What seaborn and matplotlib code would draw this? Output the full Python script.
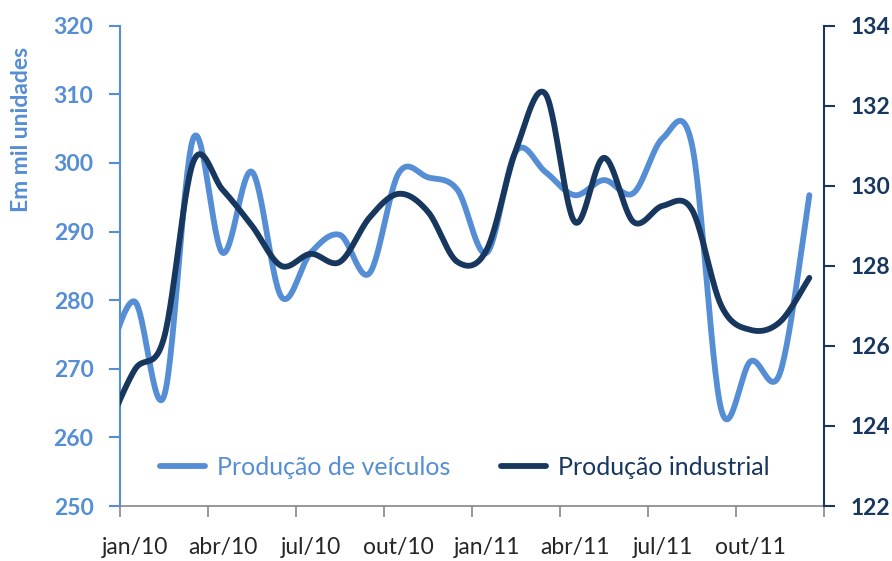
import numpy as np
import matplotlib
matplotlib.use("Agg")
import matplotlib.pyplot as plt
import seaborn as sns

# Monthly data (first value is dez/09, clipped by the axis like in the source chart)
months = ["dez/09",
          "jan/10", "fev/10", "mar/10", "abr/10", "mai/10", "jun/10",
          "jul/10", "ago/10", "set/10", "out/10", "nov/10", "dez/10",
          "jan/11", "fev/11", "mar/11", "abr/11", "mai/11", "jun/11",
          "jul/11", "ago/11", "set/11", "out/11", "nov/11", "dez/11"]
veiculos = [270.0,
            279.8, 266.0, 303.6, 286.9, 298.7, 280.5,
            286.9, 289.5, 283.9, 298.5, 297.9, 296.1,
            286.9, 301.7, 298.7, 295.3, 297.5, 295.6,
            303.6, 302.6, 264.0, 271.1, 269.4, 295.3]
industrial = [123.8,
              125.4, 126.2, 130.6, 129.9, 129.0, 128.0,
              128.3, 128.1, 129.2, 129.8, 129.35, 128.1,
              128.4, 130.9, 132.3, 129.1, 130.7, 129.1,
              129.5, 129.4, 127.0, 126.4, 126.6, 127.7]
tick_labels = ["jan/10", "abr/10", "jul/10", "out/10",
               "jan/11", "abr/11", "jul/11", "out/11"]

light = "#558ED5"
dark = "#17375E"


def smooth(xs, ys, n=30):
    # Excel-style smoothed line (Catmull-Rom Bezier through the points)
    P = np.column_stack([np.asarray(xs, float), np.asarray(ys, float)])
    out = []
    for i in range(len(P) - 1):
        p0 = P[i - 1] if i > 0 else P[i]
        p1 = P[i]
        p2 = P[i + 1]
        p3 = P[i + 2] if i + 2 < len(P) else P[i + 1]
        b1 = p1 + (p2 - p0) / 6
        b2 = p2 - (p3 - p1) / 6
        t = np.linspace(0, 1, n)[:, None]
        seg = ((1 - t) ** 3) * p1 + 3 * ((1 - t) ** 2) * t * b1 + 3 * (1 - t) * t ** 2 * b2 + t ** 3 * p2
        out.append(seg if i == 0 else seg[1:])
    out = np.vstack(out)
    return out[:, 0], out[:, 1]


sns.set_style("white")
plt.rcParams['font.family'] = ['Lato', 'DejaVu Sans']

fig = plt.figure(figsize=(8.92, 5.61), dpi=100)
ax = fig.add_axes([0.1345, 0.098, 0.7893, 0.8562])
ax2 = ax.twinx()

xpos = np.arange(len(months)) - 0.5  # dez/09 at -0.5, jan/10 at 0.5 ...
x1, y1 = smooth(xpos, veiculos)
x2, y2 = smooth(xpos, industrial)

sns.lineplot(x=x1, y=y1, ax=ax, color=light, linewidth=4.2, sort=False,
             label="Produção de veículos", legend=False)
sns.lineplot(x=x2, y=y2, ax=ax2, color=dark, linewidth=4.2, sort=False,
             label="Produção industrial", legend=False)

ax.set_xlim(0, 24)
ax.set_ylim(250, 320)
ax2.set_ylim(122, 134)
ax.set_yticks(np.arange(250, 321, 10))
ax2.set_yticks(np.arange(122, 135, 2))

# x axis: tick marks between quarters, labels at first month of each quarter
ax.set_xticks(np.arange(0, 25, 3))
ax.set_xticklabels([])
ax.set_xticks(np.arange(0.5, 24, 3), minor=True)
ax.set_xticklabels(tick_labels, minor=True, fontsize=16.5)
ax.tick_params(axis='x', which='major', length=8, width=1.2, color="#868686", direction='out', bottom=True)
ax.tick_params(axis='x', which='minor', length=0, pad=22)

ax.tick_params(axis='y', length=8, width=1.5, color=light, direction='out', pad=11, left=True,
               labelsize=16.5, labelcolor=light)
ax2.tick_params(axis='y', length=8, width=1.5, color=dark, direction='out', pad=11, right=True,
                labelsize=16.5, labelcolor=dark)
for lab in ax.get_yticklabels():
    lab.set_fontweight('bold')
for lab in ax2.get_yticklabels():
    lab.set_fontweight('bold')

for a in (ax, ax2):
    a.spines['top'].set_visible(False)
    a.set_xlabel("")
    a.set_ylabel("")
ax.spines['left'].set_color(light)
ax.spines['left'].set_linewidth(1.5)
ax2.spines['right'].set_color(dark)
ax2.spines['right'].set_linewidth(1.5)
ax2.spines['left'].set_visible(False)
ax.spines['right'].set_visible(False)
ax.spines['bottom'].set_color("#868686")
ax.spines['bottom'].set_linewidth(1.2)
ax2.spines['bottom'].set_visible(False)

fig.text(0.024, 0.77, "Em mil unidades", rotation=90, ha='center', va='center',
         fontsize=16.5, fontweight='bold', color=light)

h1, l1 = ax.get_legend_handles_labels()
h2, l2 = ax2.get_legend_handles_labels()
ax2.legend(h1 + h2, l1 + l2, loc='center', bbox_to_anchor=(0.49, 0.08), ncol=2,
           frameon=False, fontsize=18, handlelength=1.8, handletextpad=0.5,
           columnspacing=2.0, labelcolor='linecolor')

fig.savefig("out.png", dpi=100)
